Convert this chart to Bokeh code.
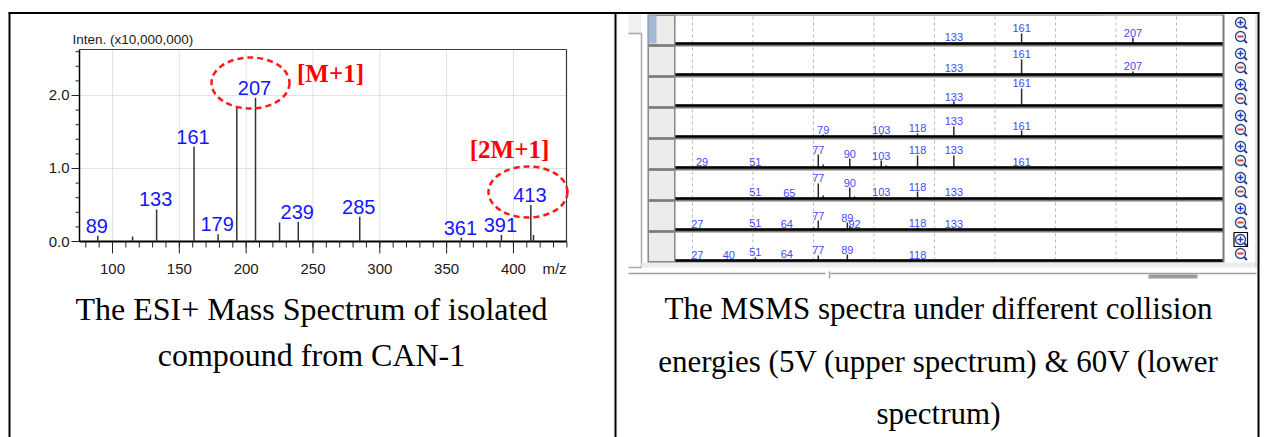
from bokeh.plotting import figure
from bokeh.models import Range1d
from bokeh.core.properties import value
from bokeh.embed import file_html
from bokeh.resources import INLINE

W, H = 1265, 437

# ---------------- data: ESI+ mass spectrum (left panel) ----------------
esi_mz = [89, 115, 133, 161, 179, 193, 207, 225, 239, 285, 361, 391, 413, 415]
esi_int = [0.08, 0.07, 0.44, 1.30, 0.10, 1.84, 1.97, 0.26, 0.27, 0.34, 0.05, 0.09, 0.50, 0.09]
esi_lab = ["89", "", "133", "161", "179", "", "207", "", "239", "285", "361", "391", "413", ""]
esi_xticks = [100, 150, 200, 250, 300, 350, 400]
esi_xtick_labels = ["100", "150", "200", "250", "300", "350", "400"]
esi_xminor = list(range(80, 441, 10))
esi_yticks = [0.0, 1.0, 2.0]
esi_ytick_labels = ["0.0", "1.0", "2.0"]
esi_yminor = [round(0.2 * i, 1) for i in range(14)]
esi_xrange = (75.3, 439.7)
esi_yrange = (0.0, 2.63)
esi_ann = ["[M+1]", "[2M+1]"]

# ---------------- data: MS/MS spectra (right panel), 8 collision energies ----------------
msms_mz = [
    [133, 161, 207],
    [133, 161, 207],
    [133, 161],
    [79, 103, 118, 133, 161],
    [29, 51, 77, 79, 90, 103, 105, 118, 133, 161],
    [51, 65, 77, 79, 90, 92, 101, 103, 118, 133],
    [27, 51, 64, 75, 77, 89, 90, 92, 118, 133],
    [27, 40, 51, 64, 77, 89, 118],
]
msms_int = [
    [4, 36, 21],
    [4, 54, 11],
    [14, 61],
    [7, 7, 11, 36, 21],
    [2, 2, 46, 11, 32, 25, 7, 43, 43, 2],
    [4, 2, 54, 11, 39, 7, 5, 4, 25, 4],
    [2, 7, 2, 7, 32, 25, 14, 2, 7, 2],
    [2, 2, 11, 4, 18, 21, 2],
]
msms_lab = [
    ["133", "161", "207"],
    ["133", "161", "207"],
    ["133", "161"],
    ["79", "103", "118", "133", "161"],
    ["29", "51", "77", "", "90", "103", "", "118", "133", "161"],
    ["51", "65", "77", "", "90", "", "", "103", "118", "133"],
    ["27", "51", "64", "", "77", "89", "", "92", "118", "133"],
    ["27", "40", "51", "64", "77", "89", "118"],
]
msms_grid = [25, 50, 75, 100, 125, 150, 175, 200, 225]
msms_xrange = (18, 244)
msms_yrange = (0, 100)

caption_left = ["The ESI+ Mass Spectrum of isolated", "compound from CAN-1"]
caption_right = ["The MSMS spectra under different collision",
                 "energies (5V (upper spectrum) & 60V (lower",
                 "spectrum)"]

# ---------------- canvas ----------------
p = figure(width=W, height=H, x_range=Range1d(0, W), y_range=Range1d(0, H),
           x_axis_type=None, y_axis_type=None, min_border=0,
           toolbar_location=None, output_backend="svg",
           outline_line_color=None, background_fill_color="white",
           border_fill_color="white")


def Y(py):
    return H - py


def hl(x0, x1, py, color, w=1.0):
    p.segment(x0=[x0], y0=[Y(py)], x1=[x1], y1=[Y(py)], line_color=color, line_width=w)


def vl(px, py0, py1, color, w=1.0):
    p.segment(x0=[px], y0=[Y(py0)], x1=[px], y1=[Y(py1)], line_color=color, line_width=w)


def box(x0, x1, py0, py1, fill, line=None, lw=1.0):
    p.quad(left=[x0], right=[x1], top=[Y(py0)], bottom=[Y(py1)],
           fill_color=fill, line_color=line, line_width=lw)


SANS = value("Liberation Sans")

# ================= LEFT PANEL =================
LX = (79, 566)
LY = (Y(241), Y(49))
s_esi = p.subplot(x_source=Range1d(*esi_xrange), y_source=Range1d(*esi_yrange),
                  x_target=Range1d(*LX), y_target=Range1d(*LY))
s_esi_x = p.subplot(x_source=Range1d(*esi_xrange), y_source=Range1d(0, H),
                    x_target=Range1d(*LX), y_target=Range1d(0, H))
s_esi_y = p.subplot(x_source=Range1d(0, W), y_source=Range1d(*esi_yrange),
                    x_target=Range1d(0, W), y_target=Range1d(*LY))

x0e, x1e = esi_xrange
y0e, y1e = esi_yrange
# grid
s_esi.segment(x0=esi_xticks, y0=[y0e] * len(esi_xticks), x1=esi_xticks, y1=[y1e] * len(esi_xticks),
              line_color="#e2e2e2", line_width=1)
gy = esi_yticks[1:]
s_esi.segment(x0=[x0e] * len(gy), y0=gy, x1=[x1e] * len(gy), y1=gy, line_color="#e2e2e2", line_width=1)
# frame
s_esi.segment(x0=[x0e, x1e], y0=[y1e, y0e], x1=[x1e, x1e], y1=[y1e, y1e], line_color="#3a3a3a", line_width=1.2)
# axes lines
s_esi.segment(x0=[x0e], y0=[y0e], x1=[x0e], y1=[y1e], line_color="black", line_width=1.5)
s_esi.segment(x0=[x0e], y0=[y0e], x1=[x1e], y1=[y0e], line_color="black", line_width=2)
# x ticks
s_esi_x.segment(x0=esi_xminor, y0=[Y(241)] * len(esi_xminor), x1=esi_xminor, y1=[Y(247)] * len(esi_xminor),
                line_color="#222", line_width=1)
s_esi_x.segment(x0=esi_xticks, y0=[Y(241)] * len(esi_xticks), x1=esi_xticks, y1=[Y(253)] * len(esi_xticks),
                line_color="#222", line_width=1)
s_esi_x.text(x=esi_xticks, y=[Y(268)] * len(esi_xticks), text=esi_xtick_labels,
             text_font=SANS, text_font_size="15px", text_color="#1a1a1a",
             text_align="center", text_baseline="middle")
# y ticks
s_esi_y.segment(x0=[75] * len(esi_yminor), y0=esi_yminor, x1=[79] * len(esi_yminor), y1=esi_yminor,
                line_color="#222", line_width=1)
s_esi_y.segment(x0=[71] * len(esi_yticks), y0=esi_yticks, x1=[79] * len(esi_yticks), y1=esi_yticks,
                line_color="#222", line_width=1)
s_esi_y.text(x=[69] * len(esi_yticks), y=esi_yticks, text=esi_ytick_labels,
             text_font=SANS, text_font_size="15px", text_color="#1a1a1a",
             text_align="right", text_baseline="middle")
p.text(x=[554], y=[Y(268)], text=["m/z"], text_font=SANS, text_font_size="15px",
       text_color="#1a1a1a", text_align="center", text_baseline="middle")
p.text(x=[72], y=[Y(39)], text=["Inten. (x10,000,000)"], text_font=SANS, text_font_size="13.5px",
       text_color="#1a1a1a", text_align="left", text_baseline="middle")
# peaks
s_esi.segment(x0=esi_mz, y0=[0] * len(esi_mz), x1=esi_mz, y1=esi_int, line_color="#333333", line_width=1.5)
lab_x = [m for m, l in zip(esi_mz, esi_lab) if l]
lab_y = [v for v, l in zip(esi_int, esi_lab) if l]
lab_t = [l for l in esi_lab if l]
s_esi.text(x=lab_x, y=lab_y, text=lab_t, text_font=SANS, text_font_size="20px",
           text_color="#1515ff", text_align="center", text_baseline="middle", y_offset=-10, x_offset=-1)
# annotations
p.ellipse(x=[250, 527.5], y=[Y(82.5), Y(191.5)], width=[78, 79], height=[51, 51],
          fill_color=None, line_color="#ff1a1a", line_width=2.5, line_dash="6 4")
p.text(x=[330, 509], y=[Y(73), Y(149)], text=esi_ann, text_font=value("Liberation Serif"),
       text_font_style="bold", text_font_size="25px", text_color="#ff0000",
       text_align="center", text_baseline="middle")

# ================= RIGHT PANEL =================
B = [43 + 31 * i for i in range(8)]
# outer bracket / background
box(628, 641, 14, 33, "#f0f0f0")
vl(641, 33, 267, "#a8a8a8", 1.5)
hl(628, 641, 33, "#a8a8a8", 1.5)
hl(628, 641, 267, "#a8a8a8", 1.5)
box(641, 1256, 262, 267, "#ececec")
box(647, 1224, 14, 262, "#7c7c7c")
hl(628, 825, 273, "#a0a0a0", 1.5)
hl(830, 1256, 273, "#a0a0a0", 1.5)
vl(829, 271, 278, "#a0a0a0", 1.5)
box(1148, 1197, 274, 278, "#9a9a9a")
hl(675, 1102, 16, "#505050", 2)

for i, b in enumerate(B):
    box(648, 674, b - 28, b + 1, "#ececec", "#8a8a8a", 1)
    box(675, 1222, b - 28, b - 1, "white")
    s = p.subplot(x_source=Range1d(*msms_xrange), y_source=Range1d(*msms_yrange),
                  x_target=Range1d(675, 1222), y_target=Range1d(Y(b), Y(b - 28)))
    xa, xb = msms_xrange
    ya, yb = msms_yrange
    s.segment(x0=msms_grid, y0=[ya] * len(msms_grid), x1=msms_grid, y1=[yb] * len(msms_grid),
              line_color="#b8b8b8", line_width=1, line_dash="3 3")
    s.segment(x0=msms_mz[i], y0=[0] * len(msms_mz[i]), x1=msms_mz[i], y1=msms_int[i],
              line_color="#2a2a2a", line_width=1.5)
    lx = [m for m, l in zip(msms_mz[i], msms_lab[i]) if l]
    ly = [v for v, l in zip(msms_int[i], msms_lab[i]) if l]
    lt = [l for l in msms_lab[i] if l]
    s.text(x=lx, y=ly, text=lt, text_font=SANS, text_font_size="11px",
           text_color="#4848ff", text_align="center", text_baseline="middle", y_offset=-5)
    s.segment(x0=[xa], y0=[ya], x1=[xb], y1=[ya], line_color="black", line_width=2.5)

box(648, 656, 15, 43, "#a3b9d6")

# zoom buttons
plus_y = [Y(b - 21) for b in B]
minus_y = [Y(b - 7) for b in B]
p.scatter(x=[1240] * 8, y=plus_y, marker="circle", size=10, fill_color="white",
          line_color="#27408b", line_width=1.3)
p.scatter(x=[1240] * 8, y=minus_y, marker="circle", size=10, fill_color="white",
          line_color="#27408b", line_width=1.3)
p.scatter(x=[1240] * 8, y=plus_y, marker="cross", size=6, line_color="#1f3fd0", line_width=1.5)
p.scatter(x=[1240] * 8, y=minus_y, marker="dash", size=6, line_color="#e23a3a", line_width=2)
p.segment(x0=[1243.5] * 8, y0=[Y(b - 17.5) for b in B], x1=[1246.5] * 8, y1=[Y(b - 14.5) for b in B],
          line_color="#27408b", line_width=2)
p.segment(x0=[1243.5] * 8, y0=[Y(b - 3.5) for b in B], x1=[1246.5] * 8, y1=[Y(b - 0.5) for b in B],
          line_color="#27408b", line_width=2)
box(1233.5, 1247, B[-1] - 28, B[-1] - 14, None, "black", 1.2)
vl(1255.5, 14, 268, "#c8c8c8", 1)

# ================= table borders and captions =================
hl(8, 1259, 12.5, "black", 2)
vl(9, 12, H, "black", 2)
vl(615, 12, H, "black", 2)
vl(1258, 12, H, "black", 2)

SERIF = value("Liberation Serif")
p.text(x=[311, 311], y=[Y(308), Y(354)], text=caption_left, text_font=SERIF,
       text_font_size="32px", text_color="black", text_align="center", text_baseline="middle")
p.text(x=[938, 938, 938], y=[Y(308), Y(361), Y(413)], text=caption_right, text_font=SERIF,
       text_font_size="31px", text_color="black", text_align="center", text_baseline="middle")

open("out.html", "w").write(file_html(p, INLINE))
